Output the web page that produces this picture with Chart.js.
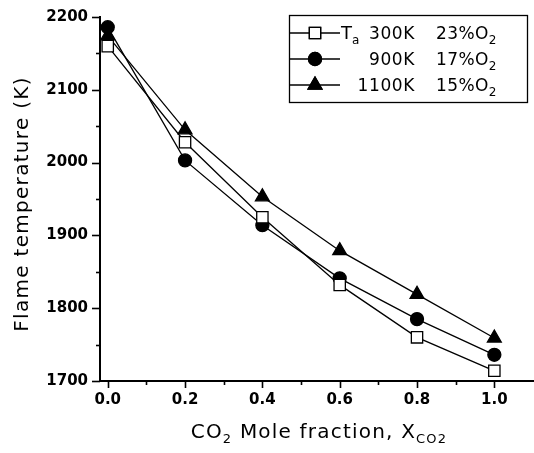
<!DOCTYPE html>
<html>
<head>
<meta charset="utf-8">
<script src="https://cdn.jsdelivr.net/npm/chart.js@4/dist/chart.umd.min.js"></script>
<style>
html,body{margin:0;padding:0;background:#fff;}
canvas{display:block;}
</style>
</head>
<body>
<canvas id="c" width="534" height="453"></canvas>
<script>
// ---- data ----
const categories = [0.0, 0.2, 0.4, 0.6, 0.8, 1.0];          // CO2 mole fraction
const ta300  = [2160, 2028, 1925, 1832, 1760, 1714];        // Ta 300K, 23% O2
const ta900  = [2186, 2003, 1914, 1841, 1785, 1736];        // 900K, 17% O2
const ta1100 = [2174, 2045, 1953, 1879, 1819, 1759];        // 1100K, 15% O2
const xTickLabels = ['0.0', '0.2', '0.4', '0.6', '0.8', '1.0'];
const yTickLabels = ['1700', '1800', '1900', '2000', '2100', '2200'];
const legendTemps = ['300K', '900K', '1100K'];
const legendO2 = ['23%O', '17%O', '15%O'];

const FONT = '"DejaVu Sans", "Liberation Sans", sans-serif';
const PLOT_RIGHT = 533;
const toPts = arr => categories.map((x, i) => ({x: x, y: arr[i]}));

const styles = [
  {pointStyle: 'rect', radius: 8, bg: '#ffffff'},
  {pointStyle: 'circle', radius: 6.5, bg: '#000000'},
  {pointStyle: 'triangle', radius: 8, bg: '#000000'}
];

function mkDataset(label, arr, s) {
  return {
    label: label,
    data: toPts(arr),
    borderColor: '#000',
    borderWidth: 1.3,
    backgroundColor: s.bg,
    pointStyle: s.pointStyle,
    pointRadius: s.radius,
    pointHoverRadius: s.radius,
    pointBackgroundColor: s.bg,
    pointBorderColor: '#000',
    pointBorderWidth: 1.3,
    fill: false,
    tension: 0,
    clip: false
  };
}

function drawSeg(ctx, parts, x, baseY, spacing) {
  let cx = x;
  parts.forEach(p => {
    ctx.font = p[1] + 'px ' + FONT;
    ctx.letterSpacing = (p[3] !== undefined ? p[3] : spacing) + 'px';
    ctx.fillText(p[0], cx, baseY + p[2]);
    cx += ctx.measureText(p[0]).width;
  });
  return cx - x;
}
function measureSeg(ctx, parts, spacing) {
  let w = 0;
  parts.forEach(p => {
    ctx.font = p[1] + 'px ' + FONT;
    ctx.letterSpacing = (p[3] !== undefined ? p[3] : spacing) + 'px';
    w += ctx.measureText(p[0]).width;
  });
  return w;
}

const stretch = {
  id: 'stretch',
  afterLayout(chart) {
    const xs = chart.scales.x;
    if (chart.chartArea.right < PLOT_RIGHT) {
      chart.chartArea.right = PLOT_RIGHT;
      chart.chartArea.width = PLOT_RIGHT - chart.chartArea.left;
      xs.right = PLOT_RIGHT;
      xs.width = PLOT_RIGHT - xs.left;
      xs.configure();
      xs._labelItems = null;
      xs._gridLineItems = null;
    }
  }
};

const decor = {
  id: 'decor',
  afterDraw(chart) {
    const ctx = chart.ctx;
    const xs = chart.scales.x, ys = chart.scales.y;
    const area = chart.chartArea;
    ctx.save();
    ctx.strokeStyle = '#000';
    ctx.fillStyle = '#000';
    ctx.lineWidth = 1.6;
    const xMaj = xTickLabels.map(parseFloat);
    xMaj.forEach((v, i) => {
      const px = Math.round(xs.getPixelForValue(v)) + 0.5;
      ctx.beginPath(); ctx.moveTo(px, area.bottom); ctx.lineTo(px, area.bottom + 7); ctx.stroke();
      if (i < xMaj.length - 1) {
        const pm = Math.round(xs.getPixelForValue((v + xMaj[i + 1]) / 2)) + 0.5;
        ctx.beginPath(); ctx.moveTo(pm, area.bottom); ctx.lineTo(pm, area.bottom + 4); ctx.stroke();
      }
    });
    const yMaj = yTickLabels.map(parseFloat);
    yMaj.forEach((v, i) => {
      const py = Math.round(ys.getPixelForValue(v)) + 0.5;
      ctx.beginPath(); ctx.moveTo(area.left, py); ctx.lineTo(area.left - 8, py); ctx.stroke();
      if (i < yMaj.length - 1) {
        const pm = Math.round(ys.getPixelForValue((v + yMaj[i + 1]) / 2)) + 0.5;
        ctx.beginPath(); ctx.moveTo(area.left, pm); ctx.lineTo(area.left - 4, pm); ctx.stroke();
      }
    });

    // x axis title with subscripts
    ctx.textBaseline = 'alphabetic';
    ctx.textAlign = 'left';
    const xParts = [['CO', 20, 0], ['2', 13, 5], [' Mole fraction, X', 20, 0], ['CO2', 13, 5]];
    const sp = 1.2;
    const wx = measureSeg(ctx, xParts, sp);
    drawSeg(ctx, xParts, 319 - wx / 2, 438, sp);

    // y axis title
    ctx.save();
    ctx.translate(28, 204);
    ctx.rotate(-Math.PI / 2);
    ctx.font = '20px ' + FONT;
    ctx.letterSpacing = '1.3px';
    ctx.textAlign = 'center';
    ctx.fillText('Flame temperature (K)', 0, 0);
    ctx.restore();

    // legend
    ctx.letterSpacing = '0px';
    ctx.lineWidth = 1.3;
    ctx.strokeRect(289.5, 15.5, 238, 87);
    const rowsY = [33, 59, 85];
    chart.data.datasets.forEach((ds, i) => {
      const y = rowsY[i];
      ctx.lineWidth = 1.3;
      ctx.strokeStyle = '#000';
      ctx.beginPath(); ctx.moveTo(290, y); ctx.lineTo(340, y); ctx.stroke();
      ctx.fillStyle = styles[i].bg;
      Chart.helpers.drawPoint(ctx, {pointStyle: styles[i].pointStyle, radius: styles[i].radius, borderWidth: 1.3}, 315, y);
      ctx.fill();
      ctx.stroke();
      ctx.fillStyle = '#000';
      ctx.textBaseline = 'alphabetic';
      const base = y + 6;
      if (i === 0) {
        ctx.textAlign = 'left';
        drawSeg(ctx, [['T', 18, 0], ['a', 12, 5]], 341, base, 0);
      }
      ctx.font = '17px ' + FONT;
      ctx.letterSpacing = '0.6px';
      ctx.textAlign = 'right';
      ctx.fillText(legendTemps[i], 415, base);
      ctx.textAlign = 'left';
      drawSeg(ctx, [[legendO2[i], 17, 0], ['2', 12, 5]], 436, base, 0.4);
    });
    ctx.restore();
  }
};

new Chart(document.getElementById('c'), {
  type: 'line',
  data: {
    datasets: [
      mkDataset('Ta 300K 23%O2', ta300, styles[0]),
      mkDataset('900K 17%O2', ta900, styles[1]),
      mkDataset('1100K 15%O2', ta1100, styles[2])
    ]
  },
  options: {
    responsive: false,
    animation: false,
    layout: {padding: {top: 17, right: 1, left: 0, bottom: 0}},
    plugins: {legend: {display: false}, tooltip: {enabled: false}, title: {display: false}},
    scales: {
      x: {
        type: 'linear',
        min: -0.02,
        max: 1.1,
        afterBuildTicks: s => { s.ticks = xTickLabels.map(t => ({value: parseFloat(t)})); },
        afterFit: s => { s.height = 72; s.paddingLeft = 0; s.paddingRight = 0; },
        grid: {display: false, drawTicks: true, tickLength: 6},
        border: {display: true, color: '#000', width: 2},
        ticks: {
          padding: 4,
          color: '#000',
          maxRotation: 0,
          autoSkip: false,
          font: {family: FONT, size: 15, weight: 'bold'},
          callback: (v, i) => xTickLabels[i]
        }
      },
      y: {
        type: 'linear',
        min: 1700,
        max: 2200,
        afterBuildTicks: s => { s.ticks = yTickLabels.map(t => ({value: parseFloat(t)})); },
        afterFit: s => { s.width = 100; s.paddingTop = 0; s.paddingBottom = 0; },
        grid: {display: false, drawTicks: true, tickLength: 8},
        border: {display: true, color: '#000', width: 2},
        ticks: {
          padding: 4,
          color: '#000',
          autoSkip: false,
          font: {family: FONT, size: 15, weight: 'bold'},
          callback: (v, i) => yTickLabels[i]
        }
      }
    }
  },
  plugins: [stretch, decor]
});
</script>
</body>
</html>
